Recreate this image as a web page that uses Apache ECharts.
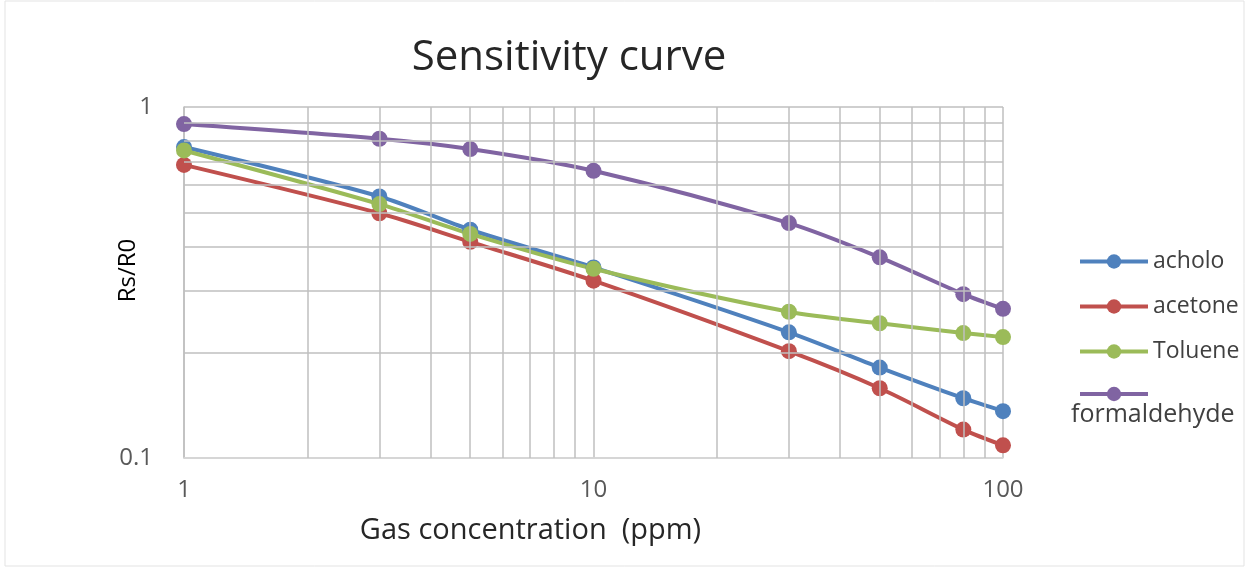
<!DOCTYPE html>
<html>
<head>
<meta charset="utf-8">
<script src="https://cdn.jsdelivr.net/npm/echarts@6/dist/echarts.min.js"></script>
<style>
  html, body { margin: 0; padding: 0; background: #fff; }
  #chart { width: 1250px; height: 570px; }
</style>
</head>
<body>
<div id="chart"></div>
<script>
// gas concentration (ppm)
const concentration = [1, 3, 5, 10, 30, 50, 80, 100];
const seriesNames = ['acholo', 'acetone', 'Toluene', 'formaldehyde'];
const acholo = [0.769, 0.556, 0.447, 0.349, 0.228, 0.181, 0.148, 0.136];
const acetone = [0.684, 0.498, 0.413, 0.320, 0.2015, 0.158, 0.1205, 0.1087];
const toluene = [0.752, 0.529, 0.435, 0.346, 0.261, 0.242, 0.227, 0.221];
const formaldehyde = [0.894, 0.812, 0.759, 0.658, 0.467, 0.373, 0.293, 0.266];
const colors = ['#4F81BD', '#C0504D', '#9BBB59', '#8064A2'];
// minor grid positions of the log axes
const xMinor = [2, 3, 4, 5, 6, 7, 8, 9, 20, 30, 40, 50, 60, 70, 80, 90];
const yMinor = [0.2, 0.3, 0.4, 0.5, 0.6, 0.7, 0.8, 0.9];

const chart = echarts.init(document.getElementById('chart'));
const font = '"Open Sans", "Noto Sans", sans-serif';

function pairs(values) {
  return concentration.map((x, i) => [x, values[i]]);
}

const allValues = [acholo, acetone, toluene, formaldehyde];
const lineSeries = seriesNames.map((name, i) => ({
  name: name,
  type: 'line',
  smooth: 0.3,
  symbol: 'circle',
  symbolSize: 16,
  z: 3,
  lineStyle: { width: 4, color: colors[i] },
  itemStyle: { color: colors[i] },
  data: pairs(allValues[i]),
}));

const gridLineStyle = { color: '#bfbfbf', width: 1.5, type: 'solid' };

const option = {
  backgroundColor: '#fff',
  animation: false,
  title: {
    text: 'Sensitivity curve',
    left: 564,
    top: 32,
    textAlign: 'center',
    textStyle: { fontFamily: font, fontSize: 42, fontWeight: 'normal', color: '#262626' },
  },
  legend: {
    orient: 'vertical',
    left: 1073,
    top: 245,
    itemWidth: 68,
    itemHeight: 18,
    itemGap: 22,
    data: seriesNames,
    lineStyle: { width: 4 },
    formatter: function (name) {
      return name === 'formaldehyde' ? '' : name;
    },
    textStyle: { fontFamily: font, fontSize: 23, color: '#404040' },
  },
  graphic: [
    {
      type: 'text',
      left: 1071,
      top: 402,
      style: { text: 'formaldehyde', fontFamily: font, fontSize: 25, fill: '#404040' },
    },
    {
      type: 'rect',
      shape: { x: 5, y: 1, width: 1239, height: 565 },
      style: { fill: 'none', stroke: '#e3e3e3', lineWidth: 1 },
      silent: true,
    },
  ],
  grid: { left: 184, right: 247, top: 107, bottom: 112, containLabel: false },
  xAxis: {
    type: 'log',
    logBase: 10,
    min: 1,
    max: 100,
    name: 'Gas concentration  (ppm)',
    nameLocation: 'middle',
    nameGap: 58,
    nameMoveOverlap: false,
    nameTextStyle: { fontFamily: font, fontSize: 29, color: '#262626', padding: [0, 126, 0, 0] },
    axisLine: { show: true, lineStyle: { color: '#d9d9d9', width: 1.5 } },
    axisTick: { show: false },
    axisLabel: { fontFamily: font, fontSize: 24, color: '#595959', margin: 20 },
    splitLine: { show: true, lineStyle: gridLineStyle },
  },
  yAxis: {
    type: 'log',
    logBase: 10,
    min: 0.1,
    max: 1,
    name: 'Rs/R0',
    nameLocation: 'middle',
    nameRotate: 90,
    nameGap: 44,
    nameMoveOverlap: false,
    nameTextStyle: { fontFamily: font, fontSize: 24, color: '#000', padding: [0, 0, 0, 24] },
    axisLine: { show: true, lineStyle: gridLineStyle },
    axisTick: { show: false },
    axisLabel: { fontFamily: font, fontSize: 24, color: '#595959', margin: 31 },
    splitLine: { show: true, lineStyle: gridLineStyle },
  },
  series: [
    {
      name: 'grid',
      type: 'line',
      data: [],
      z: 1,
      silent: true,
      markLine: {
        silent: true,
        symbol: ['none', 'none'],
        label: { show: false },
        lineStyle: gridLineStyle,
        emphasis: { disabled: true },
        data: xMinor.map((v) => ({ xAxis: v })).concat(yMinor.map((v) => ({ yAxis: v }))),
      },
    },
  ].concat(lineSeries),
};

chart.setOption(option);
</script>
</body>
</html>
